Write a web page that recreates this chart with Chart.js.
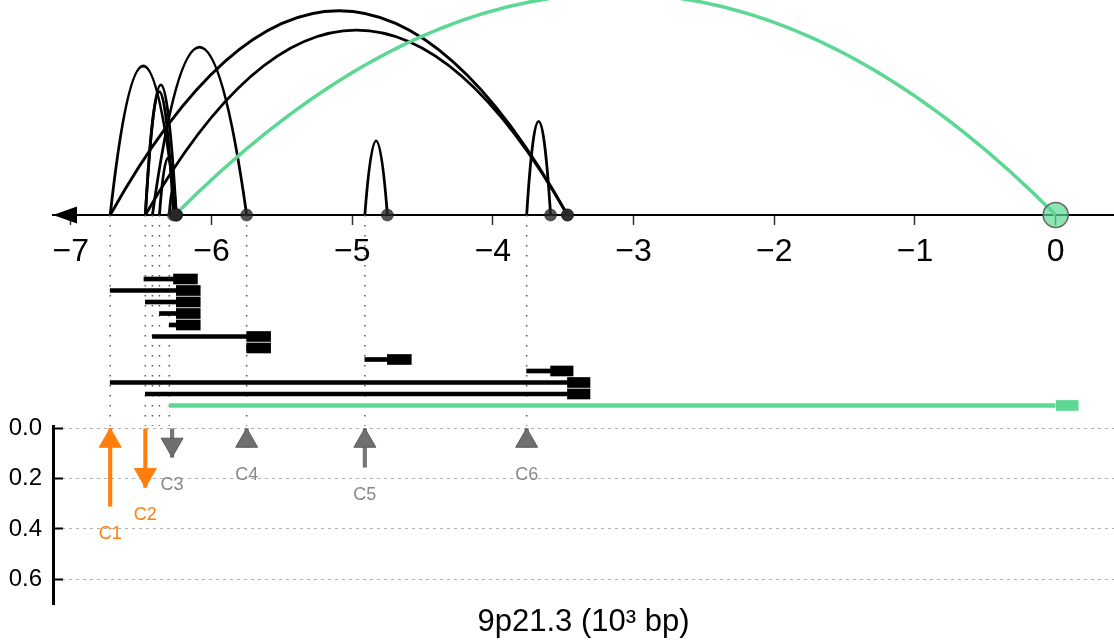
<!DOCTYPE html>
<html lang="en">
<head>
<meta charset="UTF-8">
<title>9p21.3 element - gene links</title>
<style>
  html, body { margin: 0; padding: 0; background: #fff; }
  canvas { display: block; }
</style>
<script src="https://cdn.jsdelivr.net/npm/chart.js"></script>
</head>
<body>
<canvas id="chart" width="1114" height="640"></canvas>
<script>
// links between elements and gene ends (position in 10^3 bp)
const arcStart = [-6.47, -6.72, -6.47, -6.37, -6.30, -6.42, -4.91, -3.76, -6.72, -6.47];
const arcEnd   = [-6.27, -6.25, -6.25, -6.25, -6.25, -5.75, -4.75, -3.59, -3.47, -3.47];
const arcScore = [0.574, 0.693, 0.605, 0.265, 0.12, 0.781, 0.345, 0.435, 0.95, 0.86];
const targetArc = [-6.26, 0];
const targetScore = 1.03;

// transcripts, one row each (last one is the target)
const txStart = [-6.48, -6.72, -6.47, -6.37, -6.30, -6.42, -5.75, -4.91, -3.76, -6.72, -6.47, -6.30];
const txEnd   = [-6.27, -6.25, -6.25, -6.25, -6.25, -5.75, -5.75, -4.75, -3.59, -3.47, -3.47, 0];
const txStop  = [-6.10, -6.08, -6.08, -6.08, -6.08, -5.58, -5.58, -4.58, -3.43, -3.31, -3.31, 0.16];
const txTarget = [false, false, false, false, false, false, false, false, false, false, false, true];

// candidate elements and their effects
const elementPos = [-6.72, -6.47, -6.42, -6.37, -6.30, -5.75, -4.91, -3.76];
const effLabels = ['C1', 'C2', 'C3', 'C4', 'C5', 'C6'];
const effPos    = [-6.72, -6.47, -6.28, -5.75, -4.91, -3.76];
const effValue  = [0.31, -0.235, -0.115, 0.075, 0.155, 0.075];
const effSignificant = [true, true, false, false, false, false];

const xTicks = [-7, -6, -5, -4, -3, -2, -1, 0];
const effTicks = [0, 0.2, 0.4, 0.6];

const BLACK = '#000';
const GREEN = '#5cd894';
const ORANGE = '#ff7f0e';
const GRAY = '#777';
const FONT = "'Liberation Sans', Arial, sans-serif";

Chart.defaults.font.family = FONT;
Chart.defaults.color = '#000';

const minus = v => (v < 0 ? '\u2212' + Math.abs(v) : String(v));

const linkPlugin = {
  id: 'links',
  beforeDatasetsDraw(chart) {
    const {ctx, scales: {x, yArc}} = chart;
    const base = yArc.getPixelForValue(0);
    const arc = (a, b, h, color, w) => {
      const x0 = x.getPixelForValue(a), x1 = x.getPixelForValue(b);
      const top = yArc.getPixelForValue(h);
      ctx.beginPath();
      ctx.moveTo(x0, base);
      ctx.quadraticCurveTo((x0 + x1) / 2, 2 * top - base, x1, base);
      ctx.strokeStyle = color;
      ctx.lineWidth = w;
      ctx.stroke();
    };
    ctx.save();
    arcStart.forEach((s, i) => arc(s, arcEnd[i], arcScore[i], BLACK, 2.8));
    arc(targetArc[0], targetArc[1], targetScore, GREEN, 3.5);
    // arrow head on the left end of the axis
    const left = chart.chartArea.left;
    ctx.beginPath();
    ctx.moveTo(left, base);
    ctx.lineTo(left + 24, base - 8.5);
    ctx.lineTo(left + 24, base + 8.5);
    ctx.closePath();
    ctx.fillStyle = BLACK;
    ctx.fill();
    ctx.restore();
  },
  afterDatasetsDraw(chart) {
    const {ctx, scales: {x, yEff}} = chart;
    const h = 19, hw = 11;
    ctx.save();
    ctx.font = '18px ' + FONT;
    ctx.textAlign = 'center';
    ctx.textBaseline = 'middle';
    effPos.forEach((p, i) => {
      const px = x.getPixelForValue(p);
      const up = effValue[i] > 0;
      const far = yEff.getPixelForValue(Math.abs(effValue[i]));
      const tip = up ? yEff.getPixelForValue(0) : far;
      const baseY = up ? tip + h : tip - h;
      ctx.beginPath();
      ctx.moveTo(px, tip);
      ctx.lineTo(px - hw, baseY);
      ctx.lineTo(px + hw, baseY);
      ctx.closePath();
      ctx.fillStyle = effSignificant[i] ? ORANGE : '#6f6f6f';
      ctx.fill();
      ctx.lineWidth = 1;
      ctx.strokeStyle = effSignificant[i] ? ORANGE : '#5c5c5c';
      ctx.stroke();
      ctx.fillStyle = effSignificant[i] ? ORANGE : '#888';
      ctx.fillText(effLabels[i], px, Math.max(far, yEff.getPixelForValue(0) + h) + 28);
    });
    ctx.restore();
  }
};

const guideData = [];
elementPos.forEach(p => {
  guideData.push({x: p, y: 0}, {x: p, y: -0.98}, {x: p, y: null});
});

new Chart(document.getElementById('chart'), {
  type: 'scatter',
  data: {
    datasets: [
      {
        type: 'scatter',
        label: 'gene ends',
        data: arcEnd.map(v => ({x: v, y: 0})),
        xAxisID: 'x', yAxisID: 'yArc',
        pointRadius: 6,
        backgroundColor: 'rgba(40,40,40,0.8)',
        borderColor: 'rgba(20,20,20,0.5)',
        borderWidth: 1,
        clip: false,
        order: 0
      },
      {
        type: 'scatter',
        label: 'target',
        data: [{x: targetArc[1], y: 0}],
        xAxisID: 'x', yAxisID: 'yArc',
        pointRadius: 12.5,
        backgroundColor: 'rgba(92,216,148,0.7)',
        borderColor: '#666',
        borderWidth: 1.5,
        clip: false,
        order: 0
      },
      {
        type: 'line',
        label: 'elements',
        data: guideData,
        xAxisID: 'x', yAxisID: 'yArc',
        borderColor: '#555',
        borderWidth: 1.5,
        borderDash: [1.5, 8.5],
        pointRadius: 0,
        spanGaps: false,
        clip: false,
        order: 5
      },
      {
        type: 'bar',
        label: 'transcripts',
        indexAxis: 'y',
        data: txStart.map((s, i) => ({x: [s, txEnd[i]], y: i + 1})),
        xAxisID: 'x', yAxisID: 'yTr',
        backgroundColor: txTarget.map(t => (t ? GREEN : BLACK)),
        barThickness: 4,
        grouped: false,
        borderWidth: 0,
        clip: false,
        order: 3
      },
      {
        type: 'bar',
        label: 'gene bodies',
        indexAxis: 'y',
        data: txEnd.map((s, i) => ({x: [s, txStop[i]], y: i + 1})),
        xAxisID: 'x', yAxisID: 'yTr',
        backgroundColor: txTarget.map(t => (t ? GREEN : BLACK)),
        barThickness: 10,
        grouped: false,
        borderWidth: 0,
        clip: false,
        order: 2
      },
      {
        type: 'bar',
        label: 'effects',
        data: effPos.map((p, i) => ({x: p, y: [0, Math.abs(effValue[i])]})),
        xAxisID: 'x', yAxisID: 'yEff',
        backgroundColor: effSignificant.map(s => (s ? ORANGE : GRAY)),
        barThickness: 3.5,
        grouped: false,
        borderWidth: 0,
        clip: false,
        order: 1
      }
    ]
  },
  options: {
    responsive: false,
    animation: false,
    events: [],
    layout: { padding: 0, autoPadding: false },
    plugins: { legend: { display: false }, tooltip: { enabled: false } },
    scales: {
      x: {
        type: 'linear',
        position: { yArc: 0 },
        min: -7.1265,
        max: 0.4144,
        bounds: 'data',
        offset: false,
        afterBuildTicks: s => { s.ticks = xTicks.map(v => ({value: v})); },
        afterFit: s => { s.paddingLeft = 0; s.paddingRight = 0; },
        ticks: { font: { size: 32 }, padding: 9, color: '#000', autoSkip: false, maxRotation: 0, callback: v => minus(v) },
        grid: { offset: false, drawOnChartArea: false, tickLength: 9, tickColor: '#333', tickWidth: 1.5 },
        border: { color: BLACK, width: 2 }
      },
      xb: {
        type: 'linear',
        position: 'bottom',
        min: -7.1265,
        max: 0.4144,
        bounds: 'data',
        offset: false,
        ticks: { display: false },
        grid: { display: false, drawTicks: false, offset: false },
        border: { display: false },
        title: {
          display: true,
          text: '9p21.3 (10\u00b3 bp)',
          font: { size: 31, lineHeight: 1.13 },
          padding: 0,
          color: '#000'
        }
      },
      yArc: {
        type: 'linear',
        position: 'left',
        stack: 'left',
        stackWeight: 262,
        weight: 3,
        min: -0.2186,
        max: 1,
        bounds: 'data',
        offset: false,
        display: false
      },
      yTr: {
        type: 'linear',
        position: 'left',
        stack: 'left',
        stackWeight: 165,
        weight: 2,
        min: -0.48,
        max: 13.87,
        reverse: true,
        bounds: 'data',
        offset: false,
        grid: { offset: false },
        display: false
      },
      yEff: {
        type: 'linear',
        position: 'left',
        stack: 'left',
        stackWeight: 178,
        weight: 1,
        min: -0.005,
        max: 0.702,
        reverse: true,
        bounds: 'data',
        offset: false,
        afterBuildTicks: s => { s.ticks = effTicks.map(v => ({value: v})); },
        afterFit: s => { s.width = 53; s.paddingTop = 0; s.paddingBottom = 0; },
        ticks: { font: { size: 24 }, padding: 21, color: '#000', autoSkip: false, callback: v => v.toFixed(1) },
        grid: { offset: false, color: '#b0b0b0', lineWidth: 1, tickLength: -10, tickColor: BLACK, tickWidth: 2 },
        border: { display: true, color: BLACK, width: 3, dash: [3, 4] }
      }
    }
  },
  plugins: [linkPlugin]
});
</script>
</body>
</html>
